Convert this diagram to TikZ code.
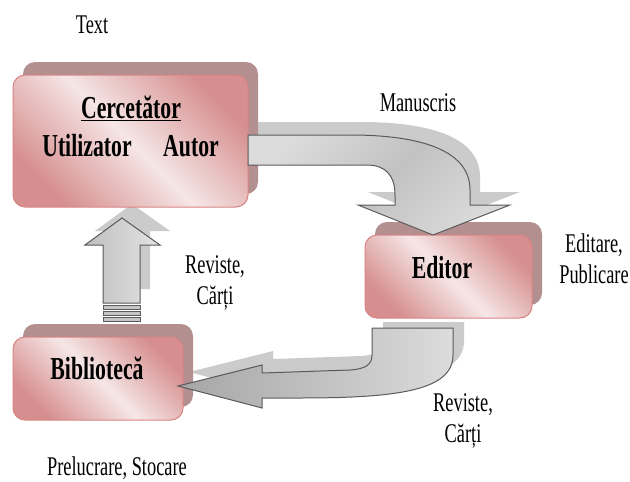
\documentclass[tikz,border=0pt]{standalone}
\usepackage{fontspec}
\setmainfont{Liberation Serif}[FakeStretch=0.68]
\usetikzlibrary{calc}
\definecolor{roseDark}{HTML}{D68E8E}
\definecolor{rosePale}{HTML}{F6E6E6}
\definecolor{roseEdge}{HTML}{D98484}
\definecolor{backMauve}{HTML}{B38F8F}
\definecolor{arrShadow}{HTML}{CBCBCB}
\definecolor{arrEdge}{HTML}{5A5A5A}
\newcommand\manArrow{(248,135) -- (350,135) .. controls (420,135) and (470,150) .. (470,190) -- (470,205) -- (510,205) -- (433,235) -- (358,205) -- (395,205) -- (395,195) .. controls (395,175) and (385,165) .. (367,165) -- (248,165) -- cycle}
\newcommand\revArrow{(372,328) -- (453,328) -- (453,355) .. controls (453,390) and (400,398) .. (300,398) -- (262,398) -- (262,408) -- (178,386) -- (262,365) -- (262,373) -- (350,370) .. controls (365,369) and (372,365) .. (372,355) -- cycle}
\newcommand\upArrow{(103,303) -- (103,245) -- (85,245) -- (122,218) -- (160,245) -- (140,245) -- (140,303) -- cycle}
\begin{document}
\begin{tikzpicture}[x=1pt,y=-1pt,
  backbox/.style={rectangle, rounded corners=12pt, fill=backMauve, draw=none, inner sep=0pt},
  frontbox/.style={rectangle, rounded corners=12pt, draw=roseEdge, line width=1pt,
     top color=roseDark, bottom color=roseDark, middle color=rosePale, shading angle=-45, inner sep=0pt},
  shadowarrow/.style={fill=arrShadow, draw=none},
  mainarrow/.style={draw=arrEdge, line width=1pt, line join=miter},
  boldtxt/.style={font=\fontsize{32}{38}\selectfont\bfseries, inner sep=0pt},
  regtxt/.style={font=\fontsize{27}{31}\selectfont, inner sep=0pt}]
\useasboundingbox (0,0) rectangle (630,482);
% arrow shadows
\fill[shadowarrow, shift={(10,-13)}] \manArrow;
\fill[shadowarrow] (383,322) -- (464,322) -- (464,341) .. controls (464,376) and (411,384) .. (311,384) -- (273,384) -- (273,394) -- (189,372) -- (273,351) -- (273,359) -- (361,356) .. controls (376,355) and (383,351) .. (383,341) -- cycle;
\fill[shadowarrow, shift={(10,-14)}] \upArrow;
% back boxes
\node[backbox, minimum width=235pt, minimum height=132pt] (cerB) at (140.5,128) {};
\node[backbox, minimum width=167pt, minimum height=83pt] (edB) at (458.5,263.5) {};
\node[backbox, minimum width=170pt, minimum height=83pt] (bibB) at (108,365.5) {};
% front boxes
\node[frontbox, minimum width=235pt, minimum height=132pt] (cerF) at (130.5,141) {};
\node[frontbox, minimum width=167pt, minimum height=83pt] (edF) at (448.5,276.5) {};
\node[frontbox, minimum width=170pt, minimum height=83pt] (bibF) at (98,378.5) {};
% main arrows
\shade[mainarrow, top color=gray!28, bottom color=gray!30, middle color=gray!48, shading angle=45] \manArrow;
\shade[mainarrow, left color=gray!70, right color=gray!28] \revArrow;
\shade[mainarrow, left color=gray!50, right color=gray!22] \upArrow;
\foreach \yy in {305,311,317}
  \filldraw[fill=gray!45, draw=arrEdge, line width=0.6pt] (103,\yy) rectangle (140,\yy+4);
% texts
\node[boldtxt] (cerT) at (131,108) {\underline{Cercetător}};
\node[boldtxt] (util) at (87,146) {Utilizator};
\node[boldtxt] (aut) at (191,146) {Autor};
\node[boldtxt] (edT) at (442,268) {Editor};
\node[boldtxt] (bibT) at (97,368) {Bibliotecă};
\node[regtxt] (textL) at (92,25) {Text};
\node[regtxt] (man) at (418,103) {Manuscris};
\node[regtxt, align=center] (edit) at (594,259) {Editare,\\Publicare};
\node[regtxt, align=center] (rev1) at (215,283) {Reviste,\\Cărți};
\node[regtxt, align=center] (rev2) at (463,421) {Reviste,\\Cărți};
\node[regtxt] (prel) at (117,468) {Prelucrare, Stocare};
\end{tikzpicture}
\end{document}
